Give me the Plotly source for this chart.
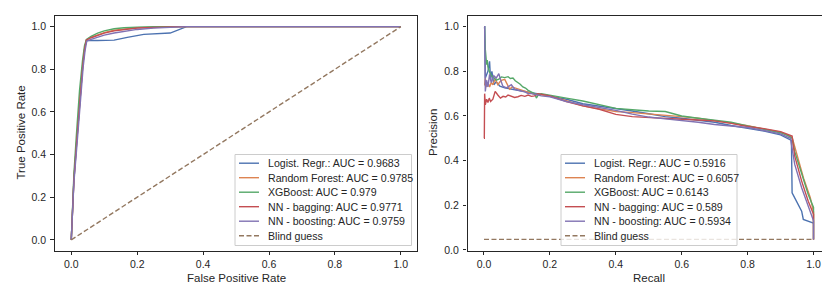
import plotly.graph_objects as go

# ---------------- data ----------------
roc_labels = ["Logist. Regr.: AUC = 0.9683", "Random Forest: AUC = 0.9785", "XGBoost: AUC = 0.979",
              "NN - bagging: AUC = 0.9771", "NN - boosting: AUC = 0.9759", "Blind guess"]
pr_labels = ["Logist. Regr.: AUC = 0.5916", "Random Forest: AUC = 0.6057", "XGBoost: AUC = 0.6143",
             "NN - bagging: AUC = 0.589", "NN - boosting: AUC = 0.5934", "Blind guess"]

roc_lr_fpr = [0, 0.003, 0.008, 0.016, 0.026, 0.035, 0.041, 0.046, 0.08, 0.13, 0.17, 0.22, 0.30, 0.33, 0.35, 0.5, 1.0]
roc_lr_tpr = [0, 0.12, 0.28, 0.45, 0.67, 0.82, 0.90, 0.935, 0.935, 0.937, 0.95, 0.964, 0.97, 0.99, 1.0, 1.0, 1.0]
roc_rf_fpr = [0, 0.003, 0.008, 0.016, 0.026, 0.035, 0.041, 0.046, 0.06, 0.08, 0.1, 0.13, 0.17, 0.2, 0.3, 0.35, 1.0]
roc_rf_tpr = [0, 0.13, 0.29, 0.46, 0.68, 0.83, 0.905, 0.938, 0.95, 0.962, 0.972, 0.983, 0.99, 0.995, 0.999, 1.0, 1.0]
roc_xgb_fpr = [0, 0.003, 0.008, 0.015, 0.025, 0.034, 0.040, 0.046, 0.06, 0.08, 0.1, 0.13, 0.16, 0.2, 0.25, 1.0]
roc_xgb_tpr = [0, 0.14, 0.31, 0.48, 0.70, 0.84, 0.91, 0.94, 0.955, 0.97, 0.98, 0.99, 0.995, 0.998, 1.0, 1.0]
roc_bag_fpr = [0, 0.003, 0.008, 0.016, 0.026, 0.035, 0.041, 0.046, 0.06, 0.08, 0.1, 0.13, 0.17, 0.2, 0.3, 0.35, 1.0]
roc_bag_tpr = [0, 0.12, 0.28, 0.45, 0.67, 0.82, 0.90, 0.938, 0.948, 0.96, 0.97, 0.98, 0.99, 0.994, 0.999, 1.0, 1.0]
roc_boost_fpr = [0, 0.003, 0.008, 0.017, 0.027, 0.036, 0.042, 0.047, 0.06, 0.08, 0.1, 0.13, 0.17, 0.2, 0.25, 0.3, 0.35, 1.0]
roc_boost_tpr = [0, 0.11, 0.27, 0.44, 0.66, 0.81, 0.89, 0.932, 0.94, 0.95, 0.96, 0.97, 0.98, 0.987, 0.993, 0.997, 1.0, 1.0]
roc_blind_fpr = [0, 1]
roc_blind_tpr = [0, 1]

pr_lr_rec = [0, 0.002, 0.004, 0.008, 0.012, 0.017, 0.02, 0.024, 0.03, 0.037, 0.048, 0.063, 0.083, 0.113, 0.144,
             0.174, 0.2, 0.25, 0.3, 0.35, 0.4, 0.45, 0.5, 0.55, 0.6, 0.65, 0.7, 0.75, 0.8, 0.85, 0.9, 0.933,
             0.935, 0.948, 0.964, 0.969, 0.997, 1.0]
pr_lr_prec = [1.0, 1.0, 0.77, 0.79, 0.80, 0.845, 0.76, 0.80, 0.74, 0.753, 0.734, 0.726, 0.72, 0.713, 0.704,
              0.697, 0.69, 0.675, 0.655, 0.645, 0.634, 0.622, 0.61, 0.597, 0.59, 0.582, 0.572, 0.557, 0.545,
              0.532, 0.515, 0.49, 0.256, 0.218, 0.173, 0.136, 0.121, 0.12]
pr_rf_rec = [0, 0.002, 0.004, 0.008, 0.012, 0.017, 0.022, 0.027, 0.034, 0.042, 0.048, 0.053, 0.063, 0.071,
             0.078, 0.085, 0.093, 0.103, 0.113, 0.124, 0.134, 0.144, 0.154, 0.174, 0.2, 0.25, 0.3, 0.35, 0.4,
             0.45, 0.5, 0.55, 0.6, 0.65, 0.7, 0.75, 0.8, 0.85, 0.9, 0.935, 0.95, 0.97, 0.99, 1.0, 1.0]
pr_rf_prec = [0.74, 0.74, 0.77, 0.73, 0.75, 0.73, 0.75, 0.74, 0.767, 0.74, 0.752, 0.76, 0.764, 0.74, 0.72,
              0.73, 0.726, 0.72, 0.715, 0.71, 0.704, 0.70, 0.697, 0.695, 0.688, 0.668, 0.645, 0.632, 0.62,
              0.615, 0.61, 0.605, 0.597, 0.59, 0.58, 0.568, 0.556, 0.543, 0.527, 0.505, 0.42, 0.32, 0.235,
              0.17, 0.046]
pr_xgb_rec = [0, 0.002, 0.004, 0.006, 0.008, 0.010, 0.012, 0.016, 0.022, 0.028, 0.037, 0.045, 0.053, 0.063,
              0.073, 0.08, 0.088, 0.095, 0.103, 0.11, 0.118, 0.126, 0.134, 0.144, 0.154, 0.159, 0.165, 0.174,
              0.2, 0.25, 0.3, 0.35, 0.4, 0.45, 0.5, 0.55, 0.6, 0.65, 0.7, 0.75, 0.8, 0.85, 0.9, 0.923, 0.935,
              0.943, 0.964, 0.984, 1.0, 1.0]
pr_xgb_prec = [1.0, 1.0, 0.90, 0.86, 0.83, 0.85, 0.82, 0.80, 0.78, 0.775, 0.76, 0.765, 0.775, 0.772, 0.776,
               0.768, 0.77, 0.758, 0.75, 0.742, 0.73, 0.725, 0.715, 0.708, 0.70, 0.68, 0.695, 0.70, 0.694,
               0.68, 0.667, 0.652, 0.634, 0.628, 0.622, 0.62, 0.60, 0.59, 0.58, 0.572, 0.555, 0.54, 0.525,
               0.512, 0.50, 0.44, 0.338, 0.248, 0.19, 0.046]
pr_bag_rec = [0, 0.001, 0.002, 0.004, 0.008, 0.012, 0.016, 0.02, 0.027, 0.034, 0.042, 0.05, 0.058, 0.066,
              0.073, 0.083, 0.093, 0.103, 0.113, 0.124, 0.134, 0.144, 0.154, 0.164, 0.2, 0.25, 0.3, 0.35, 0.4,
              0.45, 0.5, 0.55, 0.6, 0.65, 0.7, 0.75, 0.8, 0.85, 0.9, 0.935, 0.943, 0.964, 0.984, 1.0, 1.0]
pr_bag_prec = [0.5, 0.5, 0.70, 0.65, 0.675, 0.66, 0.68, 0.665, 0.675, 0.71, 0.694, 0.68, 0.688, 0.685, 0.694,
               0.69, 0.683, 0.686, 0.692, 0.688, 0.694, 0.688, 0.69, 0.70, 0.69, 0.665, 0.645, 0.63, 0.607,
               0.597, 0.592, 0.588, 0.585, 0.582, 0.578, 0.567, 0.553, 0.543, 0.53, 0.51, 0.42, 0.308, 0.218,
               0.16, 0.046]
pr_boost_rec = [0, 0.002, 0.004, 0.008, 0.012, 0.017, 0.022, 0.03, 0.037, 0.045, 0.05, 0.057, 0.068, 0.083,
                0.093, 0.103, 0.113, 0.124, 0.134, 0.144, 0.174, 0.2, 0.25, 0.3, 0.35, 0.4, 0.45, 0.5, 0.55,
                0.6, 0.65, 0.7, 0.75, 0.8, 0.85, 0.9, 0.93, 0.943, 0.964, 0.984, 1.0, 1.0]
pr_boost_prec = [1.0, 1.0, 0.71, 0.76, 0.73, 0.786, 0.75, 0.78, 0.77, 0.79, 0.764, 0.734, 0.726, 0.74, 0.72,
                 0.715, 0.712, 0.708, 0.70, 0.70, 0.69, 0.686, 0.665, 0.65, 0.638, 0.625, 0.608, 0.595, 0.587,
                 0.58, 0.572, 0.562, 0.555, 0.548, 0.535, 0.52, 0.50, 0.383, 0.278, 0.19, 0.13, 0.046]
pr_blind_rec = [0, 1]
pr_blind_prec = [0.047, 0.047]

xticks = [0.0, 0.2, 0.4, 0.6, 0.8, 1.0]
yticks = [0.0, 0.2, 0.4, 0.6, 0.8, 1.0]

# ---------------- style ----------------
W, H = 830, 285
COLORS = ["#4C72B0", "#DD8452", "#55A868", "#C44E52", "#8172B3", "#937860"]
FONT = "Liberation Sans"
INK = "#262626"
DASH = "5px,2.5px"
TICK_SIZE = 10.5
LEG_SIZE = 10.6
TITLE_SIZE = 11.5

def px(x):
    return x / W

def py(y):
    return 1 - y / H

fig = go.Figure()

roc_series = [(roc_lr_fpr, roc_lr_tpr), (roc_rf_fpr, roc_rf_tpr), (roc_xgb_fpr, roc_xgb_tpr),
              (roc_bag_fpr, roc_bag_tpr), (roc_boost_fpr, roc_boost_tpr), (roc_blind_fpr, roc_blind_tpr)]
pr_series = [(pr_lr_rec, pr_lr_prec), (pr_rf_rec, pr_rf_prec), (pr_xgb_rec, pr_xgb_prec),
             (pr_bag_rec, pr_bag_prec), (pr_boost_rec, pr_boost_prec), (pr_blind_rec, pr_blind_prec)]

for i, (xs, ys) in enumerate(roc_series):
    fig.add_trace(go.Scatter(x=xs, y=ys, mode="lines", name=roc_labels[i], showlegend=False,
                             line=dict(color=COLORS[i], width=1.4, dash=DASH if i == 5 else "solid"),
                             xaxis="x", yaxis="y"))
for i, (xs, ys) in enumerate(pr_series):
    fig.add_trace(go.Scatter(x=xs, y=ys, mode="lines", name=pr_labels[i], showlegend=False,
                             line=dict(color=COLORS[i], width=1.4, dash=DASH if i == 5 else "solid"),
                             xaxis="x2", yaxis="y2"))

ydom = [py(242.5), py(8)]
axis_common = dict(showline=True, mirror=True, linecolor=INK, linewidth=1.25, ticks="outside",
                   ticklen=3.5, tickwidth=1.1, tickcolor=INK, showgrid=False, zeroline=False,
                   tickfont=dict(family=FONT, size=TICK_SIZE, color=INK), tickformat=".1f",
                   automargin=False)

fig.update_layout(
    width=W, height=H, margin=dict(l=0, r=0, t=0, b=0),
    paper_bgcolor="white", plot_bgcolor="white", showlegend=False,
    font=dict(family=FONT, color=INK),
    xaxis=dict(domain=[px(46.8), px(409.3)], range=[-0.05, 1.05], anchor="y", tickvals=xticks, **axis_common),
    yaxis=dict(domain=ydom, range=[-0.05, 1.05], anchor="x", tickvals=yticks, ticklabelstandoff=2,
               **axis_common),
    xaxis2=dict(domain=[px(459.5), px(822)], range=[-0.05, 1.05], anchor="y2", tickvals=xticks,
                **axis_common),
    yaxis2=dict(domain=ydom, range=[-0.003, 1.048], anchor="x2", tickvals=yticks, ticklabelstandoff=2,
                **axis_common),
)

annotations = []
shapes = []
# axis titles
title_font = dict(family=FONT, size=TITLE_SIZE, color=INK)
annotations.append(dict(text="False Positive Rate", x=px(228), y=py(270), xref="paper", yref="paper",
                        showarrow=False, font=title_font, xanchor="center", yanchor="middle"))
annotations.append(dict(text="True Positive Rate", x=px(12.5), y=py(125), xref="paper", yref="paper",
                        showarrow=False, font=title_font, textangle=-90, xanchor="center", yanchor="middle"))
annotations.append(dict(text="Recall", x=px(641), y=py(270), xref="paper", yref="paper",
                        showarrow=False, font=title_font, xanchor="center", yanchor="middle"))
annotations.append(dict(text="Precision", x=px(425), y=py(125), xref="paper", yref="paper",
                        showarrow=False, font=title_font, textangle=-90, xanchor="center", yanchor="middle"))

# manual legends (matplotlib style)
def add_legend(labels, left, right, top, bottom):
    shapes.append(dict(type="rect", xref="paper", yref="paper", x0=px(left), x1=px(right),
                       y0=py(bottom), y1=py(top), line=dict(color="#cccccc", width=1),
                       fillcolor="rgba(255,255,255,0.8)", layer="above"))
    for k, lab in enumerate(labels):
        yc = top + 8.7 + 14.5 * k
        shapes.append(dict(type="line", xref="paper", yref="paper", x0=px(left + 4), x1=px(left + 24),
                           y0=py(yc), y1=py(yc), layer="above",
                           line=dict(color=COLORS[k], width=1.4, dash=DASH if k == 5 else "solid")))
        annotations.append(dict(text=lab, x=px(left + 31), y=py(yc), xref="paper", yref="paper",
                                showarrow=False, xanchor="left", yanchor="middle",
                                font=dict(family=FONT, size=LEG_SIZE, color=INK)))

add_legend(roc_labels, 227, 403.5, 146.5, 237.5)
add_legend(pr_labels, 553, 729, 146.5, 237.5)

fig.update_layout(annotations=annotations, shapes=shapes)
fig.write_html("out.html")
